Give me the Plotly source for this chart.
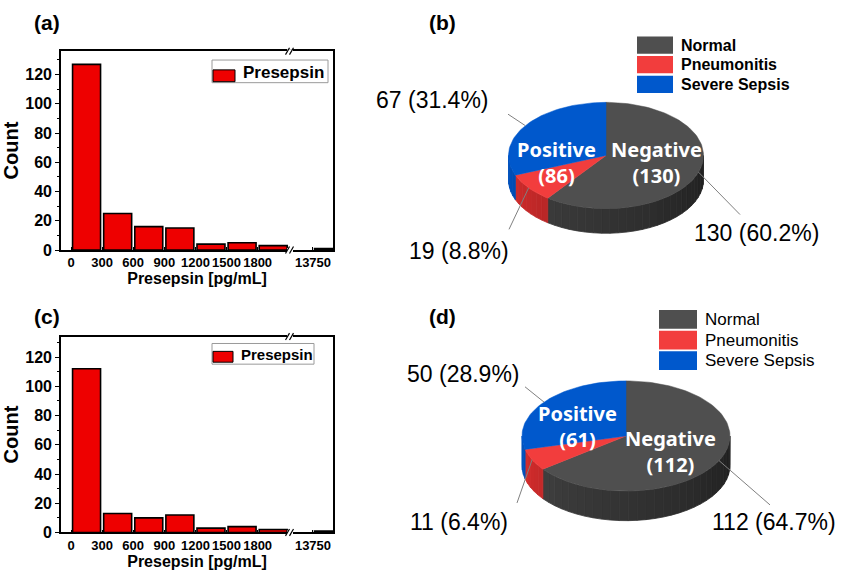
import numpy as np
import plotly.graph_objects as go

W, H = 842, 571

# ---- histogram data: lower bin edges (pg/mL) and counts ----
hist_bins = [0, 300, 600, 900, 1200, 1500, 1800, 13750]
hist_counts_a = [127, 25, 16, 15, 4, 5, 3, 1]
hist_counts_c = [112, 13, 10, 12, 3, 4, 2, 1]
BIN_WIDTH = 300
x_tick_values = [0, 300, 600, 900, 1200, 1500, 1800, 13750]
x_tick_labels = ["0", "300", "600", "900", "1200", "1500", "1800", "13750"]
y_tick_values = [0, 20, 40, 60, 80, 100, 120]

# ---- pie data ----
pie_categories = ["Normal", "Pneumonitis", "Severe Sepsis"]
pie_counts_b = [130, 19, 67]
pie_pcts_b = ["60.2%", "8.8%", "31.4%"]
pie_counts_d = [112, 11, 50]
pie_pcts_d = ["64.7%", "6.4%", "28.9%"]
group_names = ["Negative", "Positive"]

# ---- styling ----
BAR_RED = "#ee0000"
TOP_COLORS = {"Normal": "#4f4f4f", "Pneumonitis": "#f23d3d", "Severe Sepsis": "#0058cc"}
SIDE_RGB = {"Normal": (70, 70, 70), "Pneumonitis": (220, 46, 46), "Severe Sepsis": (0, 82, 190)}
ARIAL = "Liberation Sans"
SANS = "Noto Sans"


def px(x):
    return x / W


def py(y):
    return 1 - y / H


# broken x axis: values in the far segment are shifted next to the near one
SEG_SPLIT = 5000
SEG_SHIFT = 13750 - 2334


def broken(v):
    return v if v < SEG_SPLIT else v - SEG_SHIFT


fig = go.Figure()
shapes = []
annotations = []

hist_panels = [
    dict(counts=hist_counts_a, xa="x", ya="y", top=52, bottom=254, ymax=136,
         legend_box=(212, 61, 328, 84), swatch=(213, 71, 235, 83), legend_text=(241, 73.5), legend_size=17,
         letter="(a)", letter_pos=(47, 23)),
    dict(counts=hist_counts_c, xa="x2", ya="y2", top=342, bottom=541, ymax=134,
         legend_box=(212, 349, 314, 370), swatch=(213, 357, 233, 368), legend_text=(239, 360), legend_size=15,
         letter="(c)", letter_pos=(47, 322)),
]

FRAME_L, FRAME_R = 61, 333
X_RANGE = [-96.5, 2527]
BREAK_PX = 290

for i, p in enumerate(hist_panels):
    centers = [broken(e + BIN_WIDTH / 2) for e in hist_bins]
    fig.add_trace(go.Bar(
        x=centers, y=p["counts"], width=BIN_WIDTH * 0.9, name="Presepsin",
        marker=dict(color=BAR_RED, line=dict(color="black", width=1.6)),
        xaxis=p["xa"], yaxis=p["ya"], showlegend=False, hoverinfo="skip",
    ))
    sfx = "" if i == 0 else "2"
    xdom = [px(FRAME_L), px(FRAME_R)]
    ydom = [py(p["bottom"]), py(p["top"])]
    fig.layout["xaxis" + sfx] = dict(
        domain=xdom, range=X_RANGE, anchor="y" + sfx,
        tickmode="array", tickvals=[broken(v) for v in x_tick_values], ticktext=x_tick_labels,
        ticks="inside", ticklen=3, tickwidth=1, tickcolor="black",
        tickfont=dict(family=ARIAL, size=13, color="black", weight="bold"),
        showline=True, linecolor="black", linewidth=1.6, mirror=True,
        showgrid=False, zeroline=False,
        title=dict(text="Presepsin [pg/mL]", font=dict(family=ARIAL, size=16, color="black", weight="bold"),
                   standoff=2),
    )
    fig.layout["yaxis" + sfx] = dict(
        domain=ydom, range=[0, p["ymax"]], anchor="x" + sfx,
        tickmode="array", tickvals=y_tick_values,
        ticks="outside", ticklen=4, tickwidth=1, tickcolor="black",
        minor=dict(tickmode="linear", tick0=0, dtick=10, ticks="outside", ticklen=2, tickcolor="black"),
        tickfont=dict(family=ARIAL, size=16, color="black", weight="bold"),
        showline=True, linecolor="black", linewidth=1.6, mirror=True,
        showgrid=False, zeroline=False,
        title=dict(text="Count", font=dict(family=ARIAL, size=20, color="black", weight="bold"), standoff=2),
    )
    # axis-break marks on bottom and top frame lines
    for yy in (p["top"], p["bottom"]):
        shapes.append(dict(type="rect", xref="paper", yref="paper",
                           x0=px(BREAK_PX - 3), x1=px(BREAK_PX + 3), y0=py(yy + 2), y1=py(yy - 2),
                           fillcolor="white", line=dict(width=0), layer="above"))
        for dx in (-2.5, 1.5):
            shapes.append(dict(type="line", xref="paper", yref="paper",
                               x0=px(BREAK_PX + dx - 2), y0=py(yy + 3.5), x1=px(BREAK_PX + dx + 2), y1=py(yy - 3.5),
                               line=dict(color="black", width=1.2), layer="above"))
    # legend box
    bx0, by0, bx1, by1 = p["legend_box"]
    shapes.append(dict(type="rect", xref="paper", yref="paper", x0=px(bx0), x1=px(bx1), y0=py(by1), y1=py(by0),
                       fillcolor="white", line=dict(color="#9a9a9a", width=1), layer="above"))
    sx0, sy0, sx1, sy1 = p["swatch"]
    shapes.append(dict(type="rect", xref="paper", yref="paper", x0=px(sx0), x1=px(sx1), y0=py(sy1), y1=py(sy0),
                       fillcolor=BAR_RED, line=dict(color="black", width=1), layer="above"))
    tx, ty = p["legend_text"]
    annotations.append(dict(xref="paper", yref="paper", x=px(tx), y=py(ty), text="Presepsin",
                            showarrow=False, xanchor="left", yanchor="middle",
                            font=dict(family=ARIAL, size=p["legend_size"], color="black", weight="bold")))
    lx, ly = p["letter_pos"]
    annotations.append(dict(xref="paper", yref="paper", x=px(lx), y=py(ly), text=p["letter"],
                            showarrow=False, xanchor="center", yanchor="middle",
                            font=dict(family=ARIAL, size=21, color="black", weight="bold")))

# ---- 3D-style pies drawn on a hidden pixel-scaled axis ----
fig.layout["xaxis3"] = dict(domain=[px(360), 1], range=[360, W], visible=False, anchor="y3")
fig.layout["yaxis3"] = dict(domain=[0, 1], range=[H, 0], visible=False, anchor="x3")

pie_panels = [
    dict(counts=pie_counts_b, pcts=pie_pcts_b, cx=606, cy=158, a=97.5, b=54, h=25,
         leader_end=[(740, 218), (509, 233), (508, 116)],
         label_pos=[(756, 237), (459, 255), (432, 102)],
         group_pos=[(656, 165), (556, 165)],
         legend_x=(637, 673), legend_tops=[37, 57, 77], legend_h=17.5, legend_text_x=679,
         legend_font=dict(family=ARIAL, size=16, color="black", weight="bold"),
         letter="(b)", letter_pos=(442, 23)),
    dict(counts=pie_counts_d, pcts=pie_pcts_d, cx=626, cy=443, a=104, b=56, h=30,
         leader_end=[(770, 513), (517, 511), (525, 393)],
         label_pos=[(774, 530), (459, 530), (463, 380)],
         group_pos=[(670, 459), (577, 433)],
         legend_x=(659, 697), legend_tops=[315, 336, 357], legend_h=19, legend_text_x=703,
         legend_font=dict(family=ARIAL, size=17, color="black"),
         letter="(d)", letter_pos=(442, 322)),
]


def rim(p, theta_deg, dy=0.0):
    t = np.radians(theta_deg)
    return p["cx"] + p["a"] * np.sin(t), p["cy"] - p["b"] * np.cos(t) + dy


def shade(rgb, theta):
    f = 0.45 + 0.55 * (theta - 90) / 180
    return "rgb(%d,%d,%d)" % tuple(int(round(c * f)) for c in rgb)


for p in pie_panels:
    total = sum(p["counts"])
    bounds = np.concatenate([[0], np.cumsum(p["counts"])]) / total * 360.0
    # side wall (front half only), shaded strips
    for k, cat in enumerate(pie_categories):
        s0, s1 = max(bounds[k], 90), min(bounds[k + 1], 270)
        if s1 <= s0:
            continue
        n = max(1, int(np.ceil((s1 - s0) / 5)))
        edges = np.linspace(s0, s1, n + 1)
        for j in range(n):
            th = np.linspace(edges[j], edges[j + 1], 6)
            tx, ty = rim(p, th)
            bx, by = rim(p, th[::-1], p["h"])
            col = shade(SIDE_RGB[cat], 0.5 * (edges[j] + edges[j + 1]))
            fig.add_trace(go.Scatter(
                x=np.concatenate([tx, bx, tx[:1]]), y=np.concatenate([ty, by, ty[:1]]),
                mode="lines", fill="toself", fillcolor=col, line=dict(color=col, width=0.8),
                xaxis="x3", yaxis="y3", showlegend=False, hoverinfo="skip",
            ))
    # top face slices
    for k, cat in enumerate(pie_categories):
        th = np.linspace(bounds[k], bounds[k + 1], max(8, int((bounds[k + 1] - bounds[k]) / 2)))
        rx, ry = rim(p, th)
        fig.add_trace(go.Scatter(
            x=np.concatenate([[p["cx"]], rx, [p["cx"]]]), y=np.concatenate([[p["cy"]], ry, [p["cy"]]]),
            mode="lines", fill="toself", fillcolor=TOP_COLORS[cat],
            line=dict(color=TOP_COLORS[cat], width=0.5), name=cat,
            xaxis="x3", yaxis="y3", showlegend=False, hoverinfo="skip",
        ))
    # leader lines and value labels
    for k, cat in enumerate(pie_categories):
        mid = 0.5 * (bounds[k] + bounds[k + 1])
        ix, iy = rim(p, mid)
        ex, ey = p["leader_end"][k]
        fig.add_trace(go.Scatter(
            x=[ix, ex], y=[iy, ey], mode="lines", line=dict(color="#808080", width=1),
            xaxis="x3", yaxis="y3", showlegend=False, hoverinfo="skip",
        ))
        lx, ly = p["label_pos"][k]
        annotations.append(dict(xref="x3", yref="y3", x=lx, y=ly,
                                text=f"{p['counts'][k]} ({p['pcts'][k]})", showarrow=False,
                                xanchor="center", yanchor="middle",
                                font=dict(family=ARIAL, size=23, color="black")))
    # group totals on the top face
    group_totals = [p["counts"][0], p["counts"][1] + p["counts"][2]]
    for g, name in enumerate(group_names):
        gx, gy = p["group_pos"][g]
        annotations.append(dict(xref="x3", yref="y3", x=gx, y=gy,
                                text=f"{name}<br>({group_totals[g]})", showarrow=False,
                                xanchor="center", yanchor="middle", align="center",
                                font=dict(family=SANS, size=20, color="white", weight="bold")))
    # category legend
    lx0, lx1 = p["legend_x"]
    for k, cat in enumerate(pie_categories):
        t0 = p["legend_tops"][k]
        shapes.append(dict(type="rect", xref="x3", yref="y3", x0=lx0, x1=lx1, y0=t0, y1=t0 + p["legend_h"],
                           fillcolor=TOP_COLORS[cat], line=dict(width=0)))
        annotations.append(dict(xref="x3", yref="y3", x=p["legend_text_x"], y=t0 + p["legend_h"] / 2,
                                text=cat, showarrow=False, xanchor="left", yanchor="middle",
                                font=p["legend_font"]))
    lx, ly = p["letter_pos"]
    annotations.append(dict(xref="x3", yref="y3", x=lx, y=ly, text=p["letter"], showarrow=False,
                            xanchor="center", yanchor="middle",
                            font=dict(family=ARIAL, size=21, color="black", weight="bold")))

fig.update_layout(
    width=W, height=H, margin=dict(l=0, r=0, t=0, b=0),
    paper_bgcolor="white", plot_bgcolor="white",
    shapes=shapes, annotations=annotations, showlegend=False,
)

fig.write_html("out.html")
